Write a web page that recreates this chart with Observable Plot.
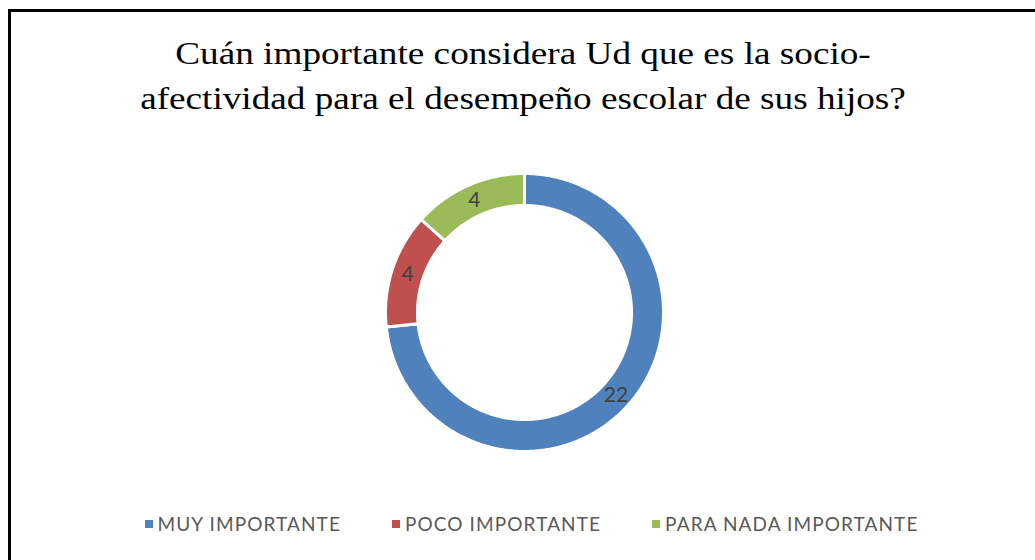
<!DOCTYPE html>
<html><head><meta charset="utf-8">
<script src="https://cdn.jsdelivr.net/npm/d3@7"></script>
<script src="https://cdn.jsdelivr.net/npm/@observablehq/plot@0.6"></script>
<style>
body{margin:0;width:1035px;height:560px;overflow:hidden;background:#fff;position:relative}
#frame{position:absolute;left:8px;top:9px;width:1100px;height:700px;border:3px solid #000;box-sizing:border-box}
#title{position:absolute;left:0;top:31px;width:1046px;text-align:center;font-family:"Liberation Serif","Times New Roman",serif;font-size:32px;line-height:45px;color:#000;transform:scaleX(1.163);transform-origin:523px 0}
#chart{position:absolute;left:0;top:0}
#legend{position:absolute;left:0;top:512px;width:1063px;display:flex;justify-content:center;gap:51px;font-family:Lato,sans-serif;font-size:19px;letter-spacing:1.1px;color:#595959;line-height:24px}
#legend .item{display:flex;align-items:center}
#legend .sw{width:8px;height:8px;margin-right:5px}
</style></head>
<body>
<div id="frame"></div>
<div id="chart"></div>
<div id="title">Cuán importante considera Ud que es la socio-<br>afectividad para el desempeño escolar de sus hijos?</div>
<div id="legend"></div>
<script>
const categories = ["MUY IMPORTANTE", "POCO IMPORTANTE", "PARA NADA IMPORTANTE"];
const values = [22, 4, 4];
const colors = ["#4F81BD", "#C0504D", "#9BBB59"];

const data = categories.map((c, i) => ({category: c, value: values[i]}));
const arcs = d3.pie().sort(null).value(d => d.value)(data);
const outerR = 1, innerR = 0.77;

// polygon points for each slice (sampled along the arcs)
const pts = [];
arcs.forEach(a => {
  const n = Math.max(8, Math.ceil((a.endAngle - a.startAngle) / (Math.PI / 360)));
  for (let k = 0; k <= n; k++) {
    const t = a.startAngle + (a.endAngle - a.startAngle) * k / n;
    pts.push({category: a.data.category, x: outerR * Math.sin(t), y: outerR * Math.cos(t)});
  }
  for (let k = n; k >= 0; k--) {
    const t = a.startAngle + (a.endAngle - a.startAngle) * k / n;
    pts.push({category: a.data.category, x: innerR * Math.sin(t), y: innerR * Math.cos(t)});
  }
});
const labels = arcs.map(a => {
  const m = (a.startAngle + a.endAngle) / 2, r = (outerR + innerR) / 2;
  return {category: a.data.category, value: a.data.value, x: r * Math.sin(m), y: r * Math.cos(m)};
});

const chart = Plot.plot({
  width: 1035, height: 560, margin: 0,
  x: {domain: [-1, 1], range: [385, 663], axis: null},
  y: {domain: [-1, 1], range: [451, 173], axis: null},
  color: {domain: categories, range: colors},
  style: {background: "transparent"},
  marks: [
    Plot.line(pts, {x: "x", y: "y", z: "category", fill: "category", stroke: "white", strokeWidth: 3, curve: "linear-closed"}),
    Plot.text(labels, {x: "x", y: "y", text: d => String(d.value), fill: "#404040", fontSize: 21, fontFamily: "Lato, sans-serif"})
  ]
});
document.getElementById("chart").appendChild(chart);

const leg = document.getElementById("legend");
categories.forEach((c, i) => {
  const it = document.createElement("div"); it.className = "item";
  const sw = document.createElement("span"); sw.className = "sw"; sw.style.background = colors[i];
  const tx = document.createElement("span"); tx.textContent = c;
  it.appendChild(sw); it.appendChild(tx); leg.appendChild(it);
});
</script>
</body></html>
